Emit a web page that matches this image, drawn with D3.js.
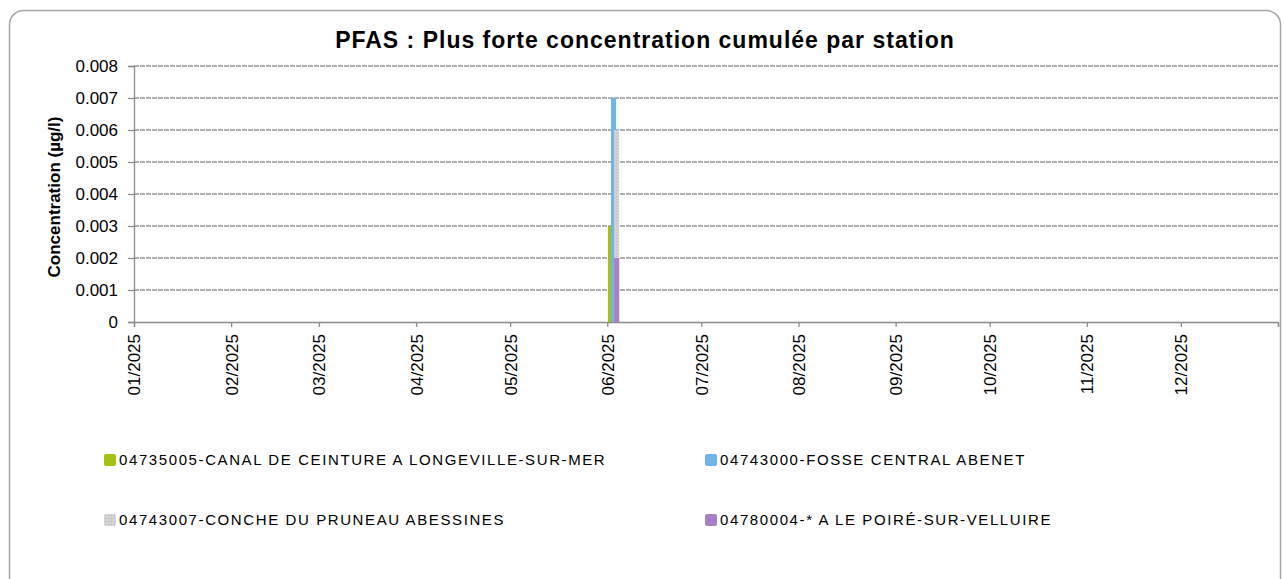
<!DOCTYPE html>
<html><head><meta charset="utf-8">
<script src="https://cdn.jsdelivr.net/npm/d3@7"></script>
<style>
html,body{margin:0;padding:0;background:#fff;}
text{font-family:"Liberation Sans",Arial,sans-serif;fill:#000;}
</style></head>
<body>
<svg id="c" width="1284" height="579"></svg>
<script>
// ---- data ----
const seriesNames = [
  "04735005-CANAL DE CEINTURE A LONGEVILLE-SUR-MER",
  "04743000-FOSSE CENTRAL ABENET",
  "04743007-CONCHE DU PRUNEAU ABESSINES",
  "04780004-* A LE POIRÉ-SUR-VELLUIRE"
];
const seriesDates = ["2025-06-02","2025-06-03","2025-06-04","2025-06-04"];
const seriesValues = [0.003, 0.007, 0.006, 0.002];
const yTicks = [0,0.001,0.002,0.003,0.004,0.005,0.006,0.007,0.008];
const monthTicks = ["2025-01-01","2025-02-01","2025-03-01","2025-04-01","2025-05-01","2025-06-01",
  "2025-07-01","2025-08-01","2025-09-01","2025-10-01","2025-11-01","2025-12-01"];
const xDomain = ["2025-01-01","2026-01-01"];
const titleText = "PFAS : Plus forte concentration cumulée par station";
const yTitle = "Concentration (µg/l)";

// ---- styles ----
const colors = ["#a3c213","#72b3e8","#d3d3d3","#a97fc6"];
const drawOrder = [0,1,2,3];

const svg = d3.select("#c");
const parse = d3.utcParse("%Y-%m-%d");
const fmtM = d3.utcFormat("%m/%Y");

// frame
svg.append("rect").attr("x",9.5).attr("y",10.5).attr("width",1271).attr("height",590)
  .attr("rx",14).attr("fill","#fff").attr("stroke","#a6a6a6").attr("stroke-width",1.5);

// pattern for gray series
const defs = svg.append("defs");
const pat = defs.append("pattern").attr("id","dots").attr("patternUnits","userSpaceOnUse")
  .attr("width",3).attr("height",3);
pat.append("rect").attr("width",3).attr("height",3).attr("fill","#d3d3d3");
pat.append("rect").attr("x",1).attr("y",1).attr("width",1).attr("height",1).attr("fill","#b8b8b8");

const pL=134, pR=1278, pT=66, pB=322;
const x = d3.scaleUtc().domain(xDomain.map(parse)).range([pL,pR]);
const y = d3.scaleLinear().domain([0,0.008]).range([pB,pT]);

// title
svg.append("text").attr("x",645).attr("y",48).attr("text-anchor","middle")
  .attr("font-weight","bold").attr("font-size",23).attr("letter-spacing","1px").text(titleText);

// gridlines
svg.append("g").selectAll("line").data(yTicks.filter(d=>d>0)).join("line")
  .attr("x1",pL).attr("x2",pR).attr("y1",d=>y(d)).attr("y2",d=>y(d))
  .attr("stroke","#969696").attr("stroke-width",1.4).attr("stroke-dasharray","5,1");

// y axis
const yAxis = d3.axisLeft(y).tickValues(yTicks).tickSize(6).tickPadding(10)
  .tickFormat(d=>d===0?"0":d3.format(".3f")(d));
const gy = svg.append("g").attr("transform",`translate(${pL},0)`).call(yAxis);
gy.select(".domain").attr("stroke","#8c8c8c").attr("stroke-width",1.3);
gy.selectAll(".tick line").attr("stroke","#8c8c8c").attr("stroke-width",1.3);
gy.selectAll("text").attr("font-size",17).attr("fill","#000")
  .style("font-family","'Liberation Sans',Arial,sans-serif");

// x axis
const xAxis = d3.axisBottom(x).tickValues(monthTicks.map(parse).concat([parse(xDomain[1])]))
  .tickSize(5).tickFormat(d=>+d===+parse(xDomain[1])?"":fmtM(d));
const gx = svg.append("g").attr("transform",`translate(0,${pB})`).call(xAxis);
gx.select(".domain").attr("stroke","#8c8c8c").attr("stroke-width",1.3);
gx.selectAll(".tick line").attr("stroke","#8c8c8c").attr("stroke-width",1.3);
gx.selectAll("text").attr("font-size",17).attr("fill","#000")
  .style("font-family","'Liberation Sans',Arial,sans-serif")
  .attr("transform","rotate(-90)").attr("text-anchor","end")
  .attr("x",-12).attr("y",0).attr("dy","0.35em");

// y title
svg.append("text").attr("transform",`translate(60,${(pT+pB)/2+3}) rotate(-90)`)
  .attr("text-anchor","middle").attr("font-weight","bold").attr("font-size",17).text(yTitle);

// bars
const barW = 5;
svg.append("g").selectAll("rect").data(drawOrder).join("rect")
  .attr("x",i=>x(parse(seriesDates[i]))-barW/2)
  .attr("width",barW)
  .attr("y",i=>y(seriesValues[i]))
  .attr("height",i=>pB-y(seriesValues[i]))
  .attr("fill",i=>i===2?"url(#dots)":colors[i]);

// legend
const legPos = [[104,460],[705,460],[104,520],[705,520]];
const lg = svg.append("g").selectAll("g").data(seriesNames).join("g")
  .attr("transform",(d,i)=>`translate(${legPos[i][0]},${legPos[i][1]})`);
lg.append("rect").attr("x",0).attr("y",-6).attr("width",12).attr("height",12).attr("rx",2)
  .attr("fill",(d,i)=>i===2?"url(#dots)":colors[i]);
lg.append("text").attr("x",15).attr("y",0).attr("dy","0.36em").attr("font-size",15)
  .attr("letter-spacing","1.6px").attr("fill","#222").text(d=>d);
</script>
</body></html>
